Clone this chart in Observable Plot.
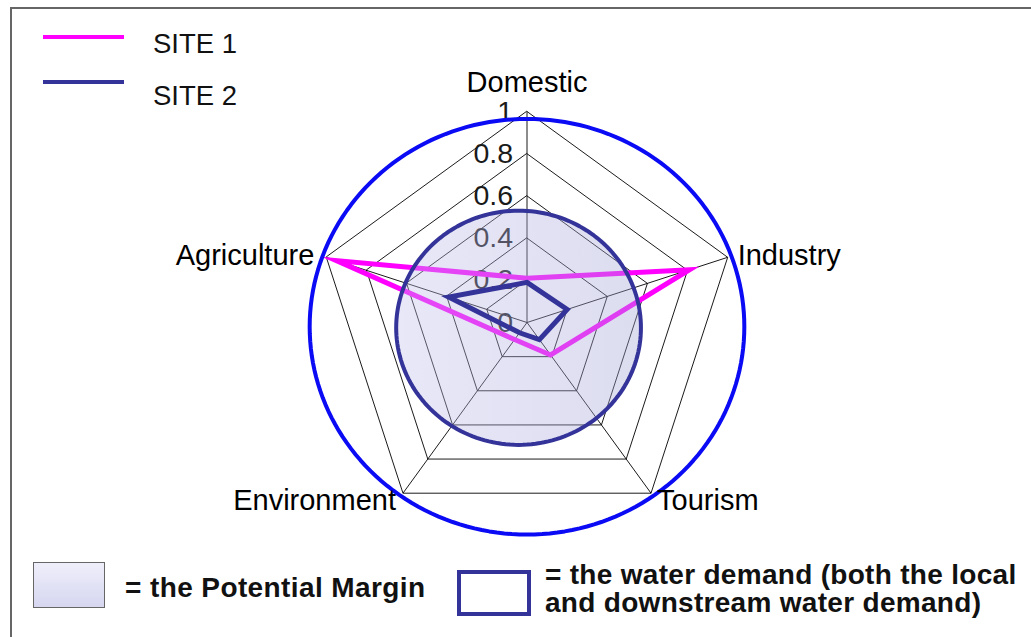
<!DOCTYPE html>
<html>
<head>
<meta charset="utf-8">
<script src="https://cdn.jsdelivr.net/npm/d3@7"></script>
<script src="https://cdn.jsdelivr.net/npm/@observablehq/plot@0.6"></script>
<style>
  html, body { margin: 0; padding: 0; background: #fff; }
  #wrap { position: relative; width: 1031px; height: 637px; overflow: hidden; font-family: "Liberation Sans", Arial, sans-serif; }
  #frame { position: absolute; left: 10px; top: 7px; width: 1100px; height: 700px; border-left: 2px solid #666; border-top: 2px solid #666; }
  #chart { position: absolute; left: 0; top: 0; }
  .lg-line { position: absolute; left: 43px; width: 81px; height: 4px; }
  .lg-text { position: absolute; left: 153px; font-size: 27.5px; line-height: 27px; color: #111; }
  .bl { position: absolute; font-weight: bold; font-size: 28px; color: #111; white-space: nowrap; line-height: 28px; }
</style>
</head>
<body>
<div id="wrap">
  <div id="frame"></div>
  <div id="chart"></div>
  <div class="lg-line" style="top:35px;background:#ff00ff"></div>
  <div class="lg-text" style="top:30px">SITE 1</div>
  <div class="lg-line" style="top:80px;background:#333399"></div>
  <div class="lg-text" style="top:82px">SITE 2</div>
  <div style="position:absolute;left:33px;top:562px;width:70px;height:44px;border:1px solid #666;background:linear-gradient(#efeffb,#d6d6f0)"></div>
  <div class="bl" style="left:125px;top:574px;letter-spacing:0.4px">= the Potential Margin</div>
  <div style="position:absolute;left:457px;top:570px;width:66px;height:38px;border:4px solid #333399;background:#fff"></div>
  <div class="bl" style="left:545px;top:561px;letter-spacing:0.3px">= the water demand (both the local<br>and downstream water demand)</div>
</div>
<script>
// ---- data ----
const categories = ["Domestic", "Industry", "Tourism", "Environment", "Agriculture"];
const site1 = [0.21, 0.81, 0.19, 0.10, 0.95];
const site2 = [0.19, 0.20, 0.10, 0.06, 0.39];
const tickValues = [0, 0.2, 0.4, 0.6, 0.8, 1];
const tickLabels = ["0", "0.2", "0.4", "0.6", "0.8", "1"];
const legendLabels = ["SITE 1", "SITE 2"];
// water demand circle (centre x, centre y, radii) and outer circle, in chart units
const demandCircle = [-0.04, -0.025, 0.58, 0.555];
const outerCircle = [0, -0.02, 1.03, 0.985];

// ---- geometry helpers ----
const n = categories.length;
const ang = i => i * 2 * Math.PI / n;
const polar = (v, i) => ({x: v * Math.sin(ang(i)), y: v * Math.cos(ang(i))});
const ellipse = ([ex, ey, rx, ry]) => d3.range(0, 360, 2).map(a => ({
  x: ex + rx * Math.cos(a * Math.PI / 180),
  y: ey + ry * Math.sin(a * Math.PI / 180)
}));

const rings = tickValues.filter(t => t > 0).flatMap(t => categories.map((c, i) => ({ring: t, ...polar(t, i)})));
const spokes = categories.map((c, i) => polar(1, i));
const s1 = site1.map((v, i) => polar(v, i));
const s2 = site2.map((v, i) => polar(v, i));
const ticks = tickValues.map((t, k) => ({x: 0, y: t, label: tickLabels[k]}));
const vert = categories.map((c, i) => ({name: c, ...polar(1, i)}));

const cx = 526.5, cy = 322, R = 211;
const font = "Liberation Sans, Arial, sans-serif";

const catText = (i, opts) => Plot.text([vert[i]], {x: "x", y: "y", text: "name", fontSize: 29, fontFamily: font, fill: "#000", lineAnchor: "bottom", ...opts});

const plot = Plot.plot({
  width: 1031,
  height: 545,
  margin: 0,
  x: {type: "linear", domain: [-1, 1], range: [cx - R, cx + R], axis: null},
  y: {type: "linear", domain: [-1, 1], range: [cy + R, cy - R], axis: null},
  style: {background: "transparent", overflow: "visible"},
  marks: [
    () => {
      const defs = d3.create("svg:defs");
      const g = defs.append("linearGradient").attr("id", "pm").attr("x1", "0").attr("x2", "1").attr("y1", "0").attr("y2", "0");
      g.append("stop").attr("offset", "0").attr("stop-color", "#c0c0ec");
      g.append("stop").attr("offset", "1").attr("stop-color", "#a2a2d6");
      return defs.node();
    },
    Plot.link(spokes, {x1: 0, y1: 0, x2: "x", y2: "y", stroke: "#000", strokeWidth: 0.9}),
    Plot.line(rings, {x: "x", y: "y", z: "ring", curve: "linear-closed", stroke: "#000", strokeWidth: 0.9}),
    Plot.text(ticks, {x: "x", y: "y", text: "label", textAnchor: "end", lineAnchor: "bottom", dx: -14, dy: 9, fontSize: 28.5, fontFamily: font, fill: "#1a1a1a"}),
    Plot.line(s1, {x: "x", y: "y", curve: "linear-closed", stroke: "#ff00ff", strokeWidth: 5, strokeLinejoin: "miter", strokeMiterlimit: 8}),
    Plot.line(ellipse(demandCircle), {x: "x", y: "y", curve: "linear-closed", fill: "url(#pm)", fillOpacity: 0.37, stroke: "none"}),
    Plot.line(s2, {x: "x", y: "y", curve: "linear-closed", stroke: "#333399", strokeWidth: 5, strokeLinejoin: "miter", strokeMiterlimit: 8}),
    Plot.line(ellipse(demandCircle), {x: "x", y: "y", curve: "linear-closed", stroke: "#333399", strokeWidth: 4}),
    Plot.line(ellipse(outerCircle), {x: "x", y: "y", curve: "linear-closed", stroke: "#0a0af5", strokeWidth: 4}),
    catText(0, {textAnchor: "middle", dy: -20}),
    catText(1, {textAnchor: "start", dx: 10, dy: 8}),
    catText(2, {textAnchor: "start", dx: 6, dy: 17}),
    catText(3, {textAnchor: "end", dx: -7, dy: 17}),
    catText(4, {textAnchor: "end", dx: -12, dy: 8})
  ]
});
document.getElementById("chart").appendChild(plot);
</script>
</body>
</html>
